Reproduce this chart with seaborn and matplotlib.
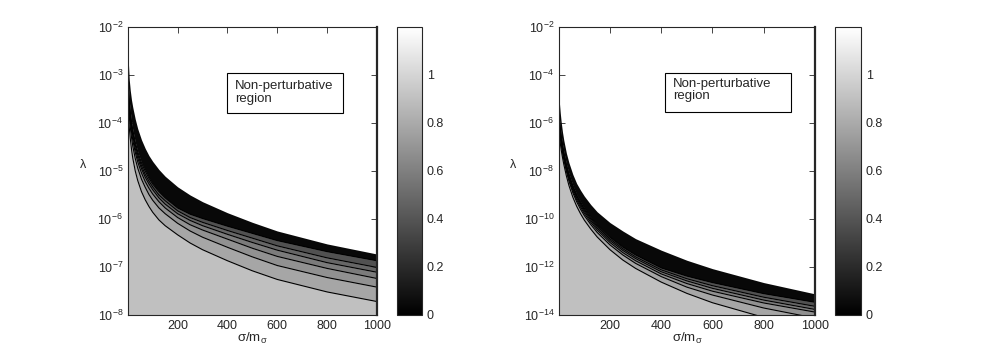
import numpy as np
import pandas as pd
import matplotlib
matplotlib.use("Agg")
import matplotlib.pyplot as plt
import matplotlib.ticker as mticker
from matplotlib.patches import Rectangle
import seaborn as sns

sns.set_style("ticks")
plt.rcParams['font.family'] = ['Liberation Sans', 'DejaVu Sans']
plt.rcParams['mathtext.fontset'] = 'custom'
plt.rcParams['mathtext.rm'] = 'Liberation Sans'
plt.rcParams['mathtext.it'] = 'Liberation Sans:italic'

# sigma/m_sigma positions where the contour lines were read
x_vals = [1, 3, 6, 10, 15, 20, 30, 40, 55, 70, 85, 100, 125, 150, 200, 250, 300, 400, 500, 600, 800, 1000]

# left panel, log10(lambda) of each contour line (lowest line -> upper edge)
left_bottom = [-3.70, -3.90, -4.10, -4.32, -4.55, -4.73, -5.00, -5.20, -5.43, -5.60, -5.74, -5.86,
               -6.02, -6.14, -6.33, -6.50, -6.64, -6.87, -7.08, -7.26, -7.52, -7.72]
left_l2 = [-3.35, -3.64, -3.86, -4.08, -4.30, -4.48, -4.74, -4.94, -5.17, -5.34, -5.49, -5.61,
           -5.77, -5.89, -6.09, -6.25, -6.38, -6.59, -6.79, -6.97, -7.22, -7.42]
left_l3 = [-3.18, -3.50, -3.74, -3.96, -4.18, -4.35, -4.61, -4.81, -5.04, -5.22, -5.36, -5.48,
           -5.64, -5.77, -5.97, -6.12, -6.23, -6.42, -6.61, -6.78, -7.03, -7.24]
left_l4 = [-3.06, -3.42, -3.66, -3.88, -4.10, -4.26, -4.53, -4.73, -4.95, -5.13, -5.27, -5.39,
           -5.56, -5.69, -5.89, -6.03, -6.14, -6.32, -6.49, -6.65, -6.91, -7.11]
left_l5 = [-2.98, -3.35, -3.60, -3.82, -4.04, -4.20, -4.46, -4.66, -4.89, -5.07, -5.21, -5.33,
           -5.50, -5.62, -5.83, -5.97, -6.07, -6.24, -6.40, -6.56, -6.81, -7.01]
left_dense = [-2.89, -3.28, -3.54, -3.76, -3.97, -4.14, -4.40, -4.60, -4.83, -5.00, -5.15, -5.27,
              -5.43, -5.56, -5.77, -5.90, -5.99, -6.15, -6.30, -6.45, -6.68, -6.87]
left_top = [-2.25, -2.80, -3.10, -3.32, -3.52, -3.67, -3.92, -4.12, -4.35, -4.53, -4.68, -4.80,
            -4.97, -5.11, -5.33, -5.50, -5.64, -5.87, -6.07, -6.25, -6.52, -6.73]

# right panel
right_bottom = [-6.10, -6.55, -6.83, -7.14, -7.45, -7.73, -8.21, -8.61, -9.09, -9.47, -9.78, -10.05,
                -10.42, -10.75, -11.28, -11.71, -12.06, -12.63, -13.10, -13.49, -14.10, -14.57]
right_l2 = [-5.76, -6.28, -6.58, -6.91, -7.24, -7.53, -8.02, -8.42, -8.90, -9.28, -9.59, -9.86,
            -10.23, -10.56, -11.08, -11.50, -11.85, -12.40, -12.84, -13.17, -13.71, -14.13]
right_l3 = [-5.59, -6.15, -6.46, -6.80, -7.14, -7.43, -7.93, -8.33, -8.81, -9.19, -9.50, -9.77,
            -10.14, -10.46, -10.98, -11.40, -11.74, -12.29, -12.69, -13.01, -13.50, -13.88]
right_l4 = [-5.45, -6.04, -6.36, -6.70, -7.05, -7.35, -7.85, -8.25, -8.73, -9.11, -9.42, -9.69,
            -10.06, -10.38, -10.90, -11.31, -11.65, -12.20, -12.58, -12.89, -13.38, -13.77]
right_l5 = [-5.34, -5.94, -6.27, -6.62, -6.98, -7.28, -7.78, -8.18, -8.66, -9.04, -9.35, -9.62,
            -9.99, -10.31, -10.83, -11.24, -11.58, -12.12, -12.49, -12.78, -13.26, -13.64]
right_dense = [-5.22, -5.85, -6.18, -6.54, -6.90, -7.21, -7.72, -8.12, -8.60, -8.98, -9.29, -9.56,
               -9.93, -10.25, -10.76, -11.17, -11.50, -12.04, -12.38, -12.65, -13.11, -13.47]
right_top = [-4.40, -5.20, -5.58, -5.99, -6.40, -6.73, -7.26, -7.66, -8.14, -8.52, -8.80, -9.05,
             -9.40, -9.70, -10.15, -10.50, -10.82, -11.30, -11.72, -12.07, -12.65, -13.12]

# colour-bar value of each band, from below the lowest line up to the dense band
band_levels = [0.9, 0.78, 0.68, 0.58, 0.48, 0.38, 0.04]
cbar_ticks = [0, 0.2, 0.4, 0.6, 0.8, 1]

cmap = plt.get_cmap('gray')
norm = matplotlib.colors.Normalize(vmin=0, vmax=1.2)


def draw_panel(ax, curves, ylo, yticks):
    x = np.array(x_vals)
    edges = [np.full(len(x), ylo)] + [10.0 ** np.array(c) for c in curves]
    for i, lev in enumerate(band_levels):
        ax.fill_between(x, edges[i], edges[i + 1], color=cmap(norm(lev)), lw=0)
    # contour lines
    rows = []
    for k, c in enumerate(curves[:-1]):
        for xi, yi in zip(x_vals, c):
            rows.append({'x': xi, 'lam': 10.0 ** yi, 'curve': k})
    df = pd.DataFrame(rows)
    sns.lineplot(data=df, x='x', y='lam', units='curve', estimator=None,
                 color='black', lw=0.8, ax=ax, legend=False)
    ax.set_yscale('log')
    ax.set_xlim(1, 1000)
    ax.set_ylim(ylo, 1e-2)
    ax.set_xticks([200, 400, 600, 800, 1000])
    ax.set_yticks(yticks)
    ax.yaxis.set_minor_locator(mticker.NullLocator())
    ax.tick_params(direction='in', top=True, right=True, labelsize=9, length=4, width=0.6)
    for s in ax.spines.values():
        s.set_linewidth(0.8)
    ax.spines['right'].set_linewidth(1.6)
    ax.set_ylabel('λ', rotation=0, fontsize=9)
    ax.yaxis.set_label_coords(-0.18, 0.5)
    ax.set_xlabel(r'σ/m$_{\mathregular{σ}}$', fontsize=9.5)
    ax.xaxis.set_label_coords(0.5, -0.055)


def draw_box(ax, x0, y0, w, h, tx, ty):
    ax.add_patch(Rectangle((x0, y0), w, h, transform=ax.transAxes, fill=True,
                           facecolor='white', edgecolor='black', lw=0.8, zorder=5))
    ax.text(tx, ty, 'Non-perturbative\nregion', transform=ax.transAxes,
            ha='left', va='center', fontsize=9.5, linespacing=1.1, zorder=6)


def draw_cbar(fig, rect):
    cax = fig.add_axes(rect)
    sm = matplotlib.cm.ScalarMappable(norm=norm, cmap=cmap)
    cb = fig.colorbar(sm, cax=cax, ticks=cbar_ticks)
    cb.ax.set_yticklabels(['0', '0.2', '0.4', '0.6', '0.8', '1'])
    cax.tick_params(direction='in', left=True, right=True, labelsize=9, length=4, width=0.6)
    cb.outline.set_linewidth(0.8)


fig = plt.figure(figsize=(9.81, 3.54), dpi=100)

ax1 = fig.add_axes([0.1305, 0.1102, 0.2538, 0.8136])
draw_panel(ax1, [left_bottom, left_l2, left_l3, left_l4, left_l5, left_dense, left_top],
           1e-8, [1e-8, 1e-7, 1e-6, 1e-5, 1e-4, 1e-3, 1e-2])
draw_box(ax1, 0.398, 0.701, 0.466, 0.139, 0.43, 0.774)
draw_cbar(fig, [0.4047, 0.1102, 0.0255, 0.8136])

ax2 = fig.add_axes([0.5698, 0.1102, 0.261, 0.8136])
draw_panel(ax2, [right_bottom, right_l2, right_l3, right_l4, right_l5, right_dense, right_top],
           1e-14, [1e-14, 1e-12, 1e-10, 1e-8, 1e-6, 1e-4, 1e-2])
draw_box(ax2, 0.414, 0.705, 0.492, 0.135, 0.444, 0.781)
draw_cbar(fig, [0.8512, 0.1102, 0.0265, 0.8136])

fig.savefig('out.png', dpi=100)
